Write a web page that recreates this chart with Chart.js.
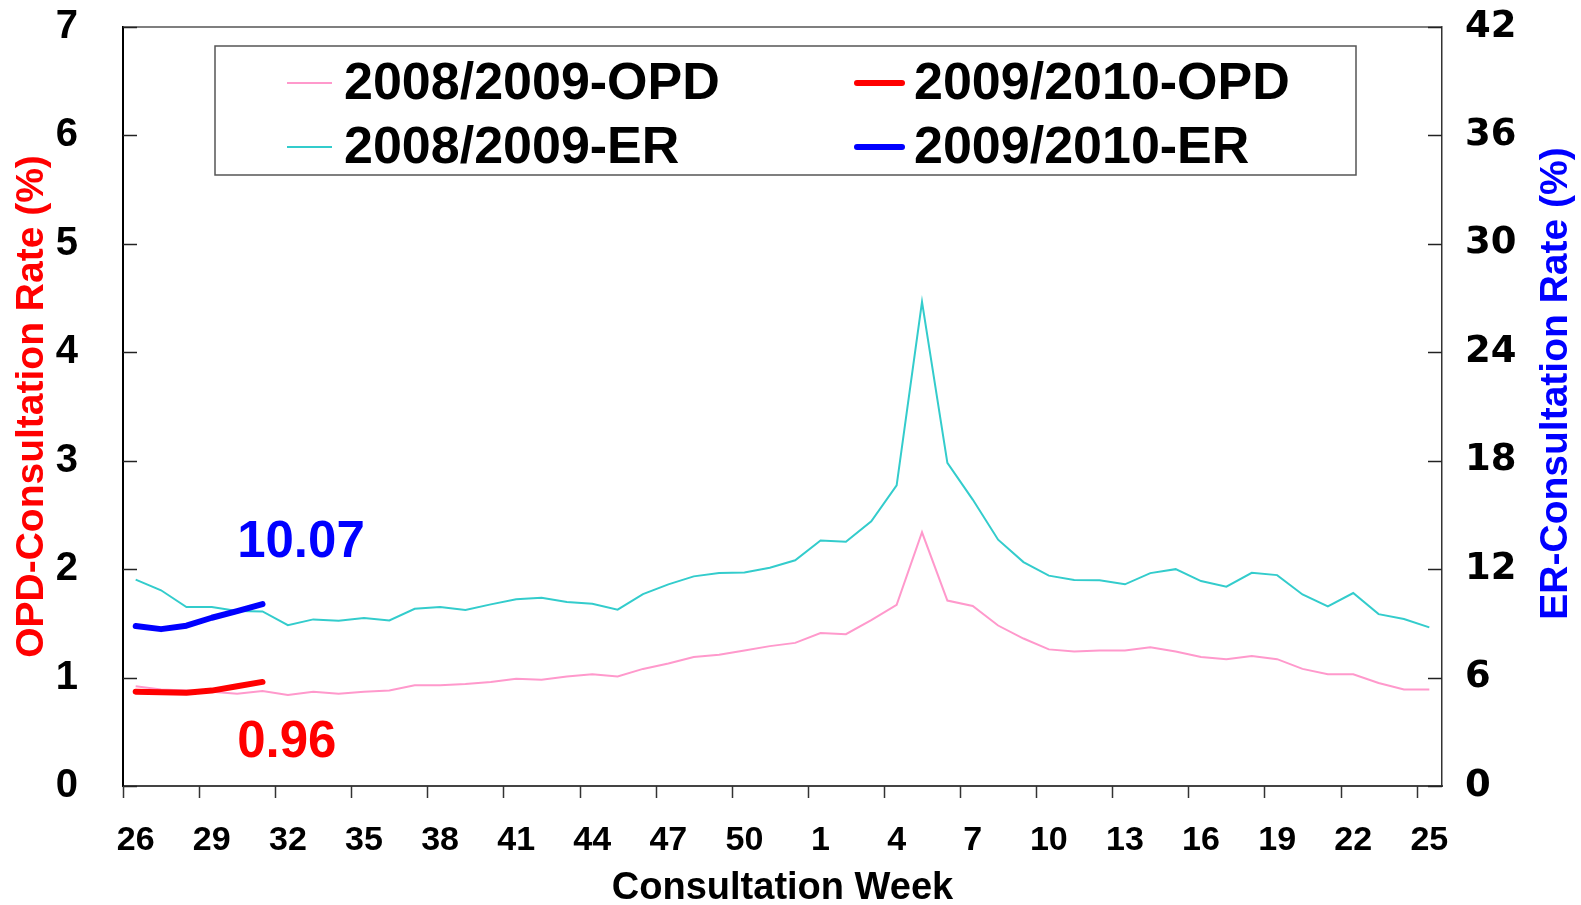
<!DOCTYPE html>
<html>
<head>
<meta charset="utf-8">
<script src="https://cdn.jsdelivr.net/npm/chart.js@4.4.0/dist/chart.umd.min.js"></script>
<style>
  html, body { margin: 0; padding: 0; background: #fff; }
</style>
</head>
<body>
<canvas id="myChart" width="1581" height="905"></canvas>
<script>
const weeks = ['26','27','28','29','30','31','32','33','34','35','36','37','38','39','40','41','42','43','44','45','46','47','48','49','50','51','52',
  '1','2','3','4','5','6','7','8','9','10','11','12','13','14','15','16','17','18','19','20','21','22','23','24','25'];

// OPD consultation rate (%), left axis
const opd0809 = [0.92,0.89,0.88,0.87,0.85,0.875,0.84,0.87,0.85,0.87,0.88,0.93,0.93,0.94,0.96,0.99,0.98,1.01,1.03,1.01,1.08,1.13,1.19,1.21,1.25,1.29,1.32,
  1.41,1.40,1.53,1.67,2.34,1.71,1.66,1.48,1.36,1.26,1.24,1.25,1.25,1.28,1.24,1.19,1.17,1.20,1.17,1.08,1.03,1.03,0.95,0.89,0.89];
const opd0910 = [0.87,0.865,0.86,0.88,0.92,0.96];

// ER consultation rate (%), right axis
const er0809 = [11.42,10.83,9.90,9.90,9.68,9.66,8.90,9.22,9.15,9.29,9.16,9.81,9.90,9.74,10.05,10.33,10.42,10.18,10.09,9.76,10.62,11.16,11.60,11.78,11.82,12.08,12.49,
  13.59,13.52,14.65,16.64,26.79,17.88,15.85,13.63,12.39,11.64,11.40,11.38,11.16,11.78,12.00,11.34,11.03,11.80,11.67,10.60,9.94,10.68,9.51,9.24,8.78];
const er0910 = [8.85,8.68,8.87,9.31,9.68,10.07];

const seriesNames = ['2008/2009-OPD', '2009/2010-OPD', '2008/2009-ER', '2009/2010-ER'];

const FONT = '"Liberation Sans", Arial, sans-serif';
const WEEK_STEP = 3;

const pad = (arr) => weeks.map((w, i) => (i < arr.length ? arr[i] : null));

// keep tick labels from pushing the plot area around
const fixBox = (w) => (s) => {
  s.width = w;
  s.paddingTop = 0;
  s.paddingBottom = 0;
};

// frame, tick marks, right title
const framePlugin = {
  id: 'frame',
  afterDraw(chart) {
    const {ctx, chartArea: a, scales} = chart;
    ctx.save();
    ctx.strokeStyle = '#555';
    ctx.lineWidth = 1.5;
    ctx.beginPath();
    ctx.moveTo(a.left, a.top);
    ctx.lineTo(a.right, a.top);
    ctx.stroke();

    ctx.strokeStyle = '#222';
    ctx.lineWidth = 1.5;
    scales.y.ticks.forEach((t, i) => {
      const py = Math.round(scales.y.getPixelForTick(i)) + 0.5;
      ctx.beginPath(); ctx.moveTo(a.left, py); ctx.lineTo(a.left + 14, py); ctx.stroke();
    });
    scales.y1.ticks.forEach((t, i) => {
      const py = Math.round(scales.y1.getPixelForTick(i)) + 0.5;
      ctx.beginPath(); ctx.moveTo(a.right, py); ctx.lineTo(a.right - 14, py); ctx.stroke();
    });

    // x tick marks on the left edge of every labelled week
    const x = scales.x;
    const half = (x.getPixelForValue(1) - x.getPixelForValue(0)) / 2;
    ctx.strokeStyle = '#333';
    for (let i = 0; i < weeks.length; i += WEEK_STEP) {
      const px = Math.round(x.getPixelForValue(i) - half) + 0.5;
      ctx.beginPath(); ctx.moveTo(px, a.bottom); ctx.lineTo(px, a.bottom + 12); ctx.stroke();
    }

    // right axis title reads bottom to top
    ctx.translate(a.right + 114, (a.top + a.bottom) / 2 - 23);
    ctx.rotate(-Math.PI / 2);
    ctx.font = 'bold 39px ' + FONT;
    ctx.fillStyle = '#0000ff';
    ctx.textAlign = 'center';
    ctx.textBaseline = 'middle';
    ctx.fillText('ER-Consultation Rate (%)', 0, 0);
    ctx.restore();
  }
};

// boxed two-column legend inside the plot
const legendPlugin = {
  id: 'boxLegend',
  afterDraw(chart) {
    const {ctx, chartArea: a} = chart;
    const bx = a.left + 92, by = a.top + 19, bw = 1141, bh = 129;
    ctx.save();
    ctx.fillStyle = '#fff';
    ctx.fillRect(bx, by, bw, bh);
    ctx.strokeStyle = '#555';
    ctx.lineWidth = 1.5;
    ctx.strokeRect(bx, by, bw, bh);
    const cols = [bx + 72, bx + 642];
    const rows = [by + 39, by + 103];
    chart.data.datasets.forEach((ds, i) => {
      const x = cols[i % 2], y = rows[Math.floor(i / 2)];
      ctx.strokeStyle = ds.borderColor;
      ctx.lineWidth = ds.borderWidth;
      ctx.lineCap = ds.borderCapStyle || 'butt';
      ctx.beginPath(); ctx.moveTo(x, y - 2); ctx.lineTo(x + 45, y - 2); ctx.stroke();
      ctx.fillStyle = '#000';
      ctx.font = 'bold 52px ' + FONT;
      ctx.textAlign = 'left';
      ctx.textBaseline = 'middle';
      ctx.fillText(ds.label, x + 57, y);
    });
    ctx.restore();
  }
};

// latest value tags for the 2009/2010 series
const tagPlugin = {
  id: 'tags',
  afterDatasetsDraw(chart) {
    const {ctx} = chart;
    [[1, 61], [3, -61]].forEach(([di, dy]) => {
      const ds = chart.data.datasets[di];
      const meta = chart.getDatasetMeta(di);
      let last = ds.data.length - 1;
      while (ds.data[last] == null) last--;
      const pt = meta.data[last];
      const prev = meta.data[last - 1];
      ctx.save();
      ctx.font = 'bold 51px ' + FONT;
      ctx.fillStyle = ds.borderColor;
      ctx.textAlign = 'left';
      ctx.textBaseline = 'middle';
      ctx.fillText(ds.data[last].toFixed(2), prev.x, pt.y + dy);
      ctx.restore();
    });
  }
};

const ctx1 = document.getElementById('myChart').getContext('2d');
const myChart = new Chart(ctx1, {
  type: 'line',
  data: {
    labels: weeks,
    datasets: [
      { label: seriesNames[0], data: opd0809, yAxisID: 'y', borderColor: '#ff99cc', borderWidth: 2, order: 1 },
      { label: seriesNames[1], data: pad(opd0910), yAxisID: 'y', borderColor: '#ff0000', borderWidth: 6,
        borderCapStyle: 'round', borderJoinStyle: 'round', order: 0 },
      { label: seriesNames[2], data: er0809, yAxisID: 'y1', borderColor: '#33cccc', borderWidth: 2, order: 1 },
      { label: seriesNames[3], data: pad(er0910), yAxisID: 'y1', borderColor: '#0000ff', borderWidth: 6,
        borderCapStyle: 'round', borderJoinStyle: 'round', order: 0 }
    ]
  },
  options: {
    responsive: false,
    animation: false,
    devicePixelRatio: 1,
    layout: { padding: { top: 27, left: 0, right: 0, bottom: 0 } },
    elements: { point: { radius: 0 }, line: { tension: 0, fill: false } },
    plugins: { legend: { display: false }, tooltip: { enabled: false } },
    scales: {
      x: {
        type: 'category',
        offset: true,
        afterFit: (s) => { s.height = 119; s.paddingLeft = 0; s.paddingRight = 0; },
        grid: { drawOnChartArea: false, drawTicks: false },
        border: { display: true, color: '#444', width: 2 },
        ticks: {
          autoSkip: false, maxRotation: 0, minRotation: 0, padding: 34, color: '#000',
          font: { family: FONT, size: 34, weight: 'bold' },
          callback: function (v, i) { return i % WEEK_STEP === 0 ? this.getLabelForValue(v) : null; }
        },
        title: { display: true, text: 'Consultation Week', color: '#000', padding: 0,
          font: { family: FONT, size: 38, weight: 'bold', lineHeight: 0.85 } }
      },
      y: {
        position: 'left',
        min: 0, max: 7,
        afterFit: fixBox(123),
        grid: { drawOnChartArea: false, drawTicks: false },
        border: { display: true, color: '#000', width: 2 },
        ticks: { stepSize: 1, padding: 45, color: '#000', font: { family: FONT, size: 40, weight: 'bold' } },
        title: { display: true, text: 'OPD-Consultation Rate (%)', color: '#ff0000', padding: { top: 9, bottom: 0 },
          font: { family: FONT, size: 39, weight: 'bold' } }
      },
      y1: {
        position: 'right',
        min: 0, max: 42,
        afterFit: fixBox(139),
        grid: { drawOnChartArea: false, drawTicks: false },
        border: { display: true, color: '#333', width: 1.5 },
        ticks: { stepSize: 6, padding: 23, color: '#000', font: { family: '"DejaVu Sans", sans-serif', size: 37, weight: 'bold' } }
      }
    }
  },
  plugins: [framePlugin, legendPlugin, tagPlugin]
});
</script>
</body>
</html>
